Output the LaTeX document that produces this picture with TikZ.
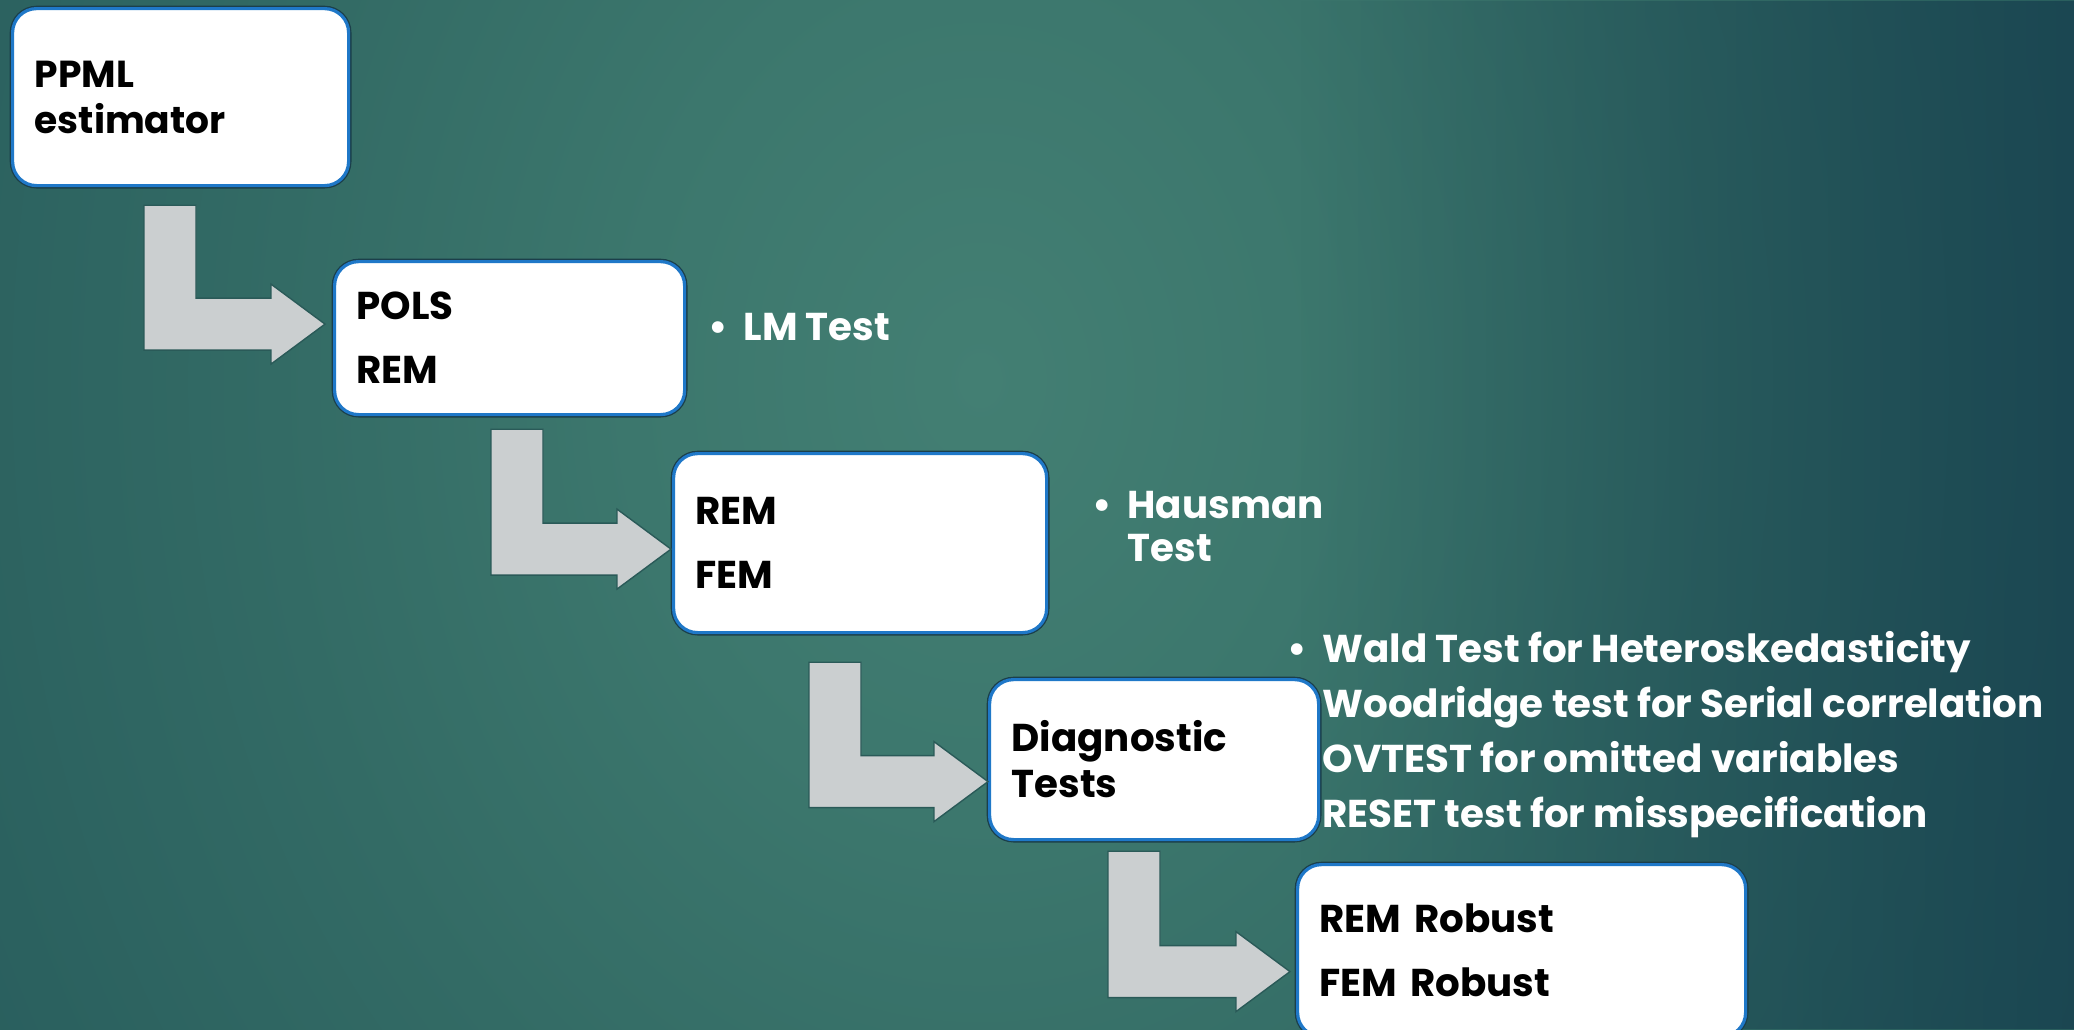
\documentclass[tikz,border=0pt]{standalone}
\usepackage{fontspec}
\setmainfont{Poppins}
\usetikzlibrary{positioning,calc,fadings}

\definecolor{bgcore}{HTML}{437F73}
\definecolor{bglight}{HTML}{3C776D}
\definecolor{bgmid}{HTML}{336B65}
\definecolor{bgdeep}{HTML}{2B615F}
\definecolor{bgedge}{HTML}{24565A}
\definecolor{bgfar}{HTML}{1E4C54}
\definecolor{bgblue}{HTML}{153D4D}
\definecolor{boxblue}{HTML}{1F78C8}
\definecolor{boxedge}{HTML}{1B3F4A}
\definecolor{arrowgray}{HTML}{CBCFD0}
\definecolor{arrowedge}{HTML}{2A5A58}

\pgfdeclareradialshading{slideglow}{\pgfpoint{0bp}{0bp}}{color(0bp)=(bgcore); color(8bp)=(bglight); color(16bp)=(bgmid); color(24bp)=(bgdeep); color(34bp)=(bgedge); color(44bp)=(bgfar); color(90bp)=(bgfar)}

\tikzset{
  box/.style={draw=boxblue, line width=1.6pt, preaction={draw=boxedge, line width=2.9pt},
    fill=white, rounded corners=12pt, anchor=north west, align=left, inner xsep=11pt,
    text=black, font=\bfseries\fontsize{19.4}{23}\selectfont},
  bent/.style={fill=arrowgray, draw=arrowedge, line width=0.7pt},
  note/.style={text=white, inner sep=0pt, align=left, font=\bfseries\fontsize{19.4}{21.5}\selectfont}
}

% bent block arrow: stem top left corner, tip
\newcommand{\bentarrow}[2]{%
  \path[bent] let \p1=(#1), \p2=(#2) in
    (\x1,\y1) -- (\x1+26pt,\y1) -- (\x1+26pt,\y2+13pt) -- (\x2-27pt,\y2+13pt)
    -- (\x2-27pt,\y2+20pt) -- (\x2,\y2) -- (\x2-27pt,\y2-20pt) -- (\x2-27pt,\y2-13pt)
    -- (\x1,\y2-13pt) -- cycle;}

\begin{document}
\begin{tikzpicture}[x=0.5pt,y=-0.5pt]
\useasboundingbox (0,0) rectangle (2074,1029);
\begin{scope}
  \clip (0,0) rectangle (2074,1029);
  \shade[shading=slideglow] (-120,-995) rectangle (2080,1755);
  \fill[bgblue, path fading=west, fill opacity=0.7] (1300,0) rectangle (2074,1029);
\end{scope}

\node[box, text width=146pt, minimum height=88.5pt, font=\bfseries\fontsize{18.8}{23}\selectfont] (ppml) at (11,7) {PPML\\estimator};
\node[box, text width=153pt, minimum height=76.5pt] (pols) at (333,260) {POLS\\[9pt]REM};
\node[box, text width=164.5pt, minimum height=89.5pt] (remfem) at (672,452) {REM\\[9pt]FEM};
\node[box, text width=142.5pt, minimum height=80pt] (diag) at (988,678) {Diagnostic\\Tests};
\node[box, text width=202pt, minimum height=86pt] (robust) at (1296,863) {REM Robust\\[9pt]FEM Robust};

\bentarrow{$(ppml.south west)+(133,18)$}{$(pols.west)+(-8,-14)$}
\bentarrow{$(pols.south west)+(158,13)$}{$(remfem.west)+(-1,6)$}
\bentarrow{$(remfem.south west)+(137,28)$}{$(diag.west)+(0,22)$}
\bentarrow{$(diag.south west)+(120,10)$}{$(robust.west)+(-6,21)$}

\node[note, right=11pt of pols, yshift=5.5pt] (lmtest) {•\hspace{0.4em}LM Test};
\node[note, right=22pt of remfem, yshift=8.5pt] (hausman) {•\hspace{0.4em}Hausman\\\hphantom{•\hspace{0.4em}}Test};
\node[note, right=-16.5pt of diag, yshift=12.3pt] (diagtests) {•\hspace{0.4em}Wald Test for Heteroskedasticity\\[6pt]
  \hphantom{•\hspace{0.4em}}Woodridge test for Serial correlation\\[6pt]
  \hphantom{•\hspace{0.4em}}OVTEST for omitted variables\\[6pt]
  \hphantom{•\hspace{0.4em}}RESET test for misspecification};
\end{tikzpicture}
\end{document}
